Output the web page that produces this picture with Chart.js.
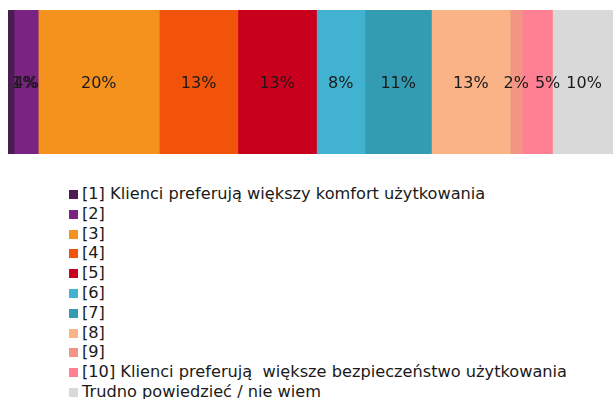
<!DOCTYPE html>
<html>
<head>
<meta charset="utf-8">
<script src="https://cdn.jsdelivr.net/npm/chart.js@4/dist/chart.umd.min.js"></script>
<style>
  html, body { margin: 0; padding: 0; background: #fff; }
  #wrap { position: relative; width: 613px; height: 164px; }
  #legend { list-style: none; margin: 0; padding: 0; position: absolute; left: 69px; top: 184px;
            font-family: 'DejaVu Sans', Verdana, sans-serif; font-size: 16.2px; color: #1a1a1a; }
  #legend li { height: 19.8px; line-height: 19.8px; white-space: pre; }
  #legend span { display: inline-block; width: 9px; height: 9px; margin-right: 4px; vertical-align: 0px; }
</style>
</head>
<body>
<div id="wrap"><canvas id="stackChart"></canvas></div>
<ul id="legend"></ul>
<script>
const answers = [
    '[1] Klienci preferują większy komfort użytkowania',
    '[2]', '[3]', '[4]', '[5]', '[6]', '[7]', '[8]', '[9]',
    '[10] Klienci preferują  większe bezpieczeństwo użytkowania',
    'Trudno powiedzieć / nie wiem'
];
const shares = [1, 4, 20, 13, 13, 8, 11, 13, 2, 5, 10];
const colors = ['#4B1C52', '#7B2383', '#F5921E', '#F05309', '#C8001E', '#41B2CF',
                '#349CB2', '#F9B386', '#F29584', '#FF8092', '#D9D9D9'];

// wartości procentowe na środku segmentów; etykieta przesuwa się w prawo,
// gdy nachodzi na poprzednią, a jej segment jest dość szeroki
const segmentLabels = {
    id: 'segmentLabels',
    afterDatasetsDraw(chart) {
        const ctx = chart.ctx;
        ctx.save();
        ctx.font = '16px "DejaVu Sans", Verdana, sans-serif';
        ctx.fillStyle = '#1a1a1a';
        ctx.textAlign = 'center';
        ctx.textBaseline = 'middle';
        let prevRight = -Infinity;
        chart.data.datasets.forEach((ds, i) => {
            const bar = chart.getDatasetMeta(i).data[0];
            const { x, base, y } = bar.getProps(['x', 'base', 'y'], true);
            const text = ds.data[0] + '%';
            const w = ctx.measureText(text).width;
            let cx = Math.max((x + base) / 2, chart.chartArea.left + 4 + w / 2);
            if (x - base > w && cx - w / 2 < prevRight + 6) {
                cx = prevRight + 6 + w / 2;
            }
            ctx.fillText(text, cx, y + 2);
            prevRight = cx + w / 2;
        });
        ctx.restore();
    }
};

new Chart(document.getElementById('stackChart'), {
    type: 'bar',
    data: {
        labels: [''],
        datasets: answers.map((a, i) => ({
            label: a,
            data: [shares[i]],
            backgroundColor: colors[i],
            borderWidth: 0,
            barPercentage: 1,
            categoryPercentage: 1
        }))
    },
    options: {
        indexAxis: 'y',
        responsive: true,
        maintainAspectRatio: false,
        animation: false,
        layout: { padding: { left: 8, top: 10, bottom: 10, right: 0 } },
        scales: {
            x: { stacked: true, min: 0, max: 100, display: false },
            y: { stacked: true, display: false }
        },
        plugins: { legend: { display: false }, tooltip: { enabled: false } }
    },
    plugins: [segmentLabels]
});

const legend = document.getElementById('legend');
answers.forEach((a, i) => {
    const li = document.createElement('li');
    const box = document.createElement('span');
    box.style.background = colors[i];
    li.appendChild(box);
    li.appendChild(document.createTextNode(a));
    legend.appendChild(li);
});
</script>
</body>
</html>
